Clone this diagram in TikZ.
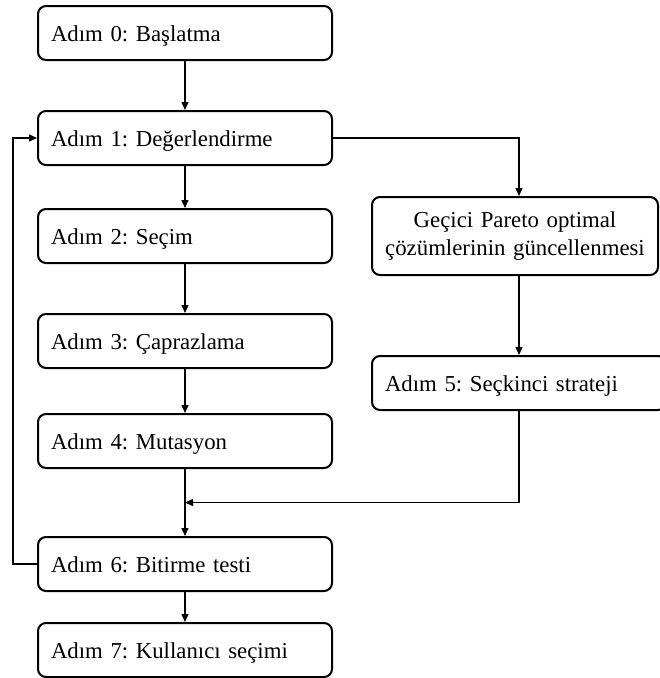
\documentclass[tikz,border=0pt]{standalone}
\usepackage{fontspec}
\setmainfont{Liberation Serif}
\usepackage{tikz}
\usetikzlibrary{arrows.meta}
\usetikzlibrary{positioning, calc}

\begin{document}
\frenchspacing
\begin{tikzpicture}[->,>={Triangle[length=8pt,width=7pt]},line width=1.4pt,
        flow node/.style={rectangle,rounded corners=8pt,draw,line width=2pt,font=\fontsize{22.8}{28}\selectfont},
        box node/.style={flow node,minimum height=54pt,text width=268pt,inner xsep=13pt,text height=21pt,text depth=4pt,align=left},
        pareto node/.style={flow node,minimum height=78pt,text width=274pt,inner xsep=6pt,align=center}]

        \useasboundingbox (0pt,0pt) rectangle (660pt,-678pt);

        \node[box node] (0) at (185pt,-33pt)  {Adım 0: Başlatma};
        \node[box node] (1) [below=49pt of 0] {Adım 1: Değerlendirme};
        \node[box node] (2) [below=42pt of 1] {Adım 2: Seçim};
        \node[box node] (3) [below=49pt of 2] {Adım 3: Çaprazlama};
        \node[box node] (4) [below=44pt of 3] {Adım 4: Mutasyon};
        \node[box node] (6) [below=67pt of 4] {Adım 6: Bitirme testi};
        \node[box node] (7) [below=30pt of 6] {Adım 7: Kullanıcı seçimi};

        \node[pareto node] (p) [right=38pt of 2] {Geçici Pareto optimal\\çözümlerinin güncellenmesi};
        \node[box node] (5) [below=79pt of p.south west, anchor=north west] {Adım 5: Seçkinci strateji};

        \coordinate (m) at ($(4.south)!0.5!(6.north)$);

          \path
            (0) edge (1)
            (1) edge (2)
            (2) edge (3)
            (3) edge (4)
            (6) edge (7);
          \draw (4.south) -- (6.north);
          \draw (5.south) |- (m);
          \draw (1.east) -| (5.north |- p.north);
          \draw (5.north |- p.south) -- (5.north);
          \draw (6.west) -- ++(-24pt,0) |- (1.west);
        \end{tikzpicture}
\end{document}
